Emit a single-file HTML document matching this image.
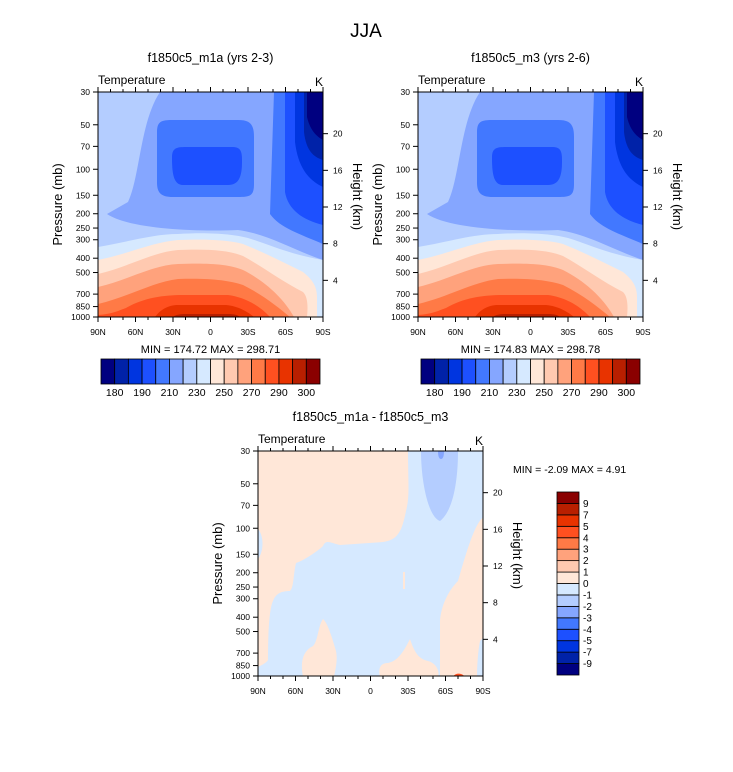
<!DOCTYPE html>
<html><head><meta charset="utf-8"><style>
body{margin:0;background:#fff}
svg{display:block;font-family:"Liberation Sans",sans-serif}
</style></head><body>
<svg id="fig" width="733" height="772" viewBox="0 0 733 772">
<text x="366" y="37" font-size="19" text-anchor="middle">JJA</text>
</svg>
<script>
// ---- data ----
const tempLevels = [180,185,190,200,210,220,230,240,250,260,270,280,290,295,300];
const tempLabels = ["180","","190","","210","","230","","250","","270","","290","","300"];
const diffLevels = [-9,-7,-5,-4,-3,-2,-1,0,1,2,3,4,5,7,9];
const colors = ["#000080","#0022a8","#0035e0","#1d50ff","#4278ff","#85a6ff","#b4cdff","#d6e9ff","#ffe7d8","#ffc9b0","#ffa27c","#ff7a46","#ff5020","#e83300","#b81f00","#8a0000"];
const pTicks = [30,50,70,100,150,200,250,300,400,500,700,850,1000];
const kmTicks = [4,8,12,16,20];
const latTicks = [90,60,30,0,-30,-60,-90];
const latLabels = ["90N","60N","30N","0","30S","60S","90S"];
const panelTitles = ["f1850c5_m1a (yrs 2-3)","f1850c5_m3 (yrs 2-6)","f1850c5_m1a - f1850c5_m3"];
const minMax = ["MIN = 174.72  MAX = 298.71","MIN = 174.83  MAX = 298.78","MIN =  -2.09  MAX =   4.91"];

const NS="http://www.w3.org/2000/svg";
const fig=document.getElementById('fig');
const W=225,H=225;
function el(tag,attrs,parent){const e=document.createElementNS(NS,tag);for(const k in attrs)e.setAttribute(k,attrs[k]);(parent||fig).appendChild(e);return e;}
function yP(p){return H*Math.log(p/30)/Math.log(1000/30);}
function xL(l){return (90-l)/180*W;}
function yKm(z){return yP(1000*Math.exp(-z/7));}

const tempShapes=[
 [6,"M0,0H225V225H0Z"],
 [5,"M62,0C42,30 42,85 30,110L9,122C30,136 90,140 140,138C170,142 195,158 225,168V0Z"],
 [4,"M59,40C59,27 66,28 80,28H140C152,28 156,32 156,45V92C156,104 152,105 140,105H75C62,105 59,100 59,90Z"],
 [4,"M176,0L172,122C182,136 202,142 225,152V0Z"],
 [3,"M74,65C74,55 80,55 90,55H135C144,55 144,62 144,70C144,86 140,93 130,93H85C75,93 74,80 74,65Z"],
 [3,"M187,0L187,100C190,118 205,128 225,133V0Z"],
 [2,"M197,0L197,50C200,75 210,88 225,95V0Z"],
 [1,"M206,0L206,40C208,58 215,65 225,68V0Z"],
 [0,"M209,0L209,25C212,38 218,44 225,48V0Z"],
 [7,"M0,155C30,150 55,142 80,142C110,140 135,142 150,146C170,152 190,162 225,168V225H0Z"],
 [8,"M0,168C30,162 55,150 80,148C110,147 130,148 145,152C165,160 185,170 205,180C215,188 219,195 219,205V225H0Z"],
 [9,"M0,182C30,175 55,160 80,158C110,157 130,158 145,164C165,175 185,190 205,200C210,205 210,215 209,225H0Z"],
 [10,"M0,195C30,188 55,173 80,172C110,171 130,172 145,178C165,188 185,205 196,225H0Z"],
 [11,"M0,212C30,205 55,190 80,187C110,186 130,188 145,193C165,203 180,215 192,225H0Z"],
 [12,"M0,223C15,222 22,218 28,216C45,206 65,203 85,203H130C145,205 160,212 172,225H0Z"],
 [13,"M57,225C62,218 70,213 80,213H128C140,214 150,220 156,225Z"],
 [14,"M75,225C78,222 85,222 90,222H130C136,222 140,223 142,225Z"]
];
const diffShapes=[
 [7,"M0,0H226V226H0Z"],
 [8,"M0,0H150C150,30 152,45 148,60C144,80 140,89 125,91L82,94C72,92 68,88 65,95C60,100 45,110 38,112C35,125 36,136 32,140C24,140 18,142 15,150C10,160 10,200 10,209C8,212 4,214 0,216V108C6,100 6,85 0,78Z"],
 [8,"M45,226C42,210 45,200 55,195C60,190 60,175 65,168C70,172 75,190 78,200C80,210 77,220 76,226Z"],
 [8,"M122,226C120,218 122,212 130,212C140,210 146,200 152,188C156,200 160,208 170,210C178,212 182,220 180,226Z"],
 [8,"M226,66C218,70 210,95 200,130C190,140 183,155 182,170V226H219C219,215 220,200 222,190L226,186Z"],
 [8,"M145,121H147V138H145Z"],
 [6,"M163,0H200C200,30 195,60 182,70C170,66 163,30 163,0Z"],
 [5,"M180,0H186C186,5 185,8 183,8C181,8 180,5 180,0Z"],
 [12,"M195,226C196,223 200,222 203,223C206,224 206,225 206,226Z"]
];

function panel(idx,x0,y0,shapes,levels,labels,cb){
  const g=el('g',{transform:`translate(${x0},${y0})`});
  
  
  const cp=el('clipPath',{id:'cp'+idx},g);el('rect',{x:0,y:0,width:W,height:H},cp);
  const fg=el('g',{'clip-path':`url(#cp${idx})`},g);
  shapes.forEach((s,i)=>{const p=el('path',{d:s[1],fill:colors[s[0]]},fg);
    
    });
  el('rect',{x:0,y:0,width:W,height:H,fill:'none',stroke:'#000','stroke-width':1},g);
  const t=el('text',{x:W/2,y:-30,'font-size':12.5,'text-anchor':'middle'},g);t.textContent=panelTitles[idx];
  
  const tt=el('text',{x:0,y:-8,'font-size':12},g);tt.textContent='Temperature';
  
  const tk=el('text',{x:W,y:-6,'font-size':12,'text-anchor':'end'},g);tk.textContent='K';
  
  for(let l=90;l>=-90;l-=10){const x=xL(l);const maj=l%30===0;
    el('line',{x1:x,x2:x,y1:H,y2:H+(maj?5:3),stroke:'#000'},g);
    el('line',{x1:x,x2:x,y1:0,y2:-(maj?5:3),stroke:'#000'},g);}
  latTicks.forEach((l,i)=>{const tx=el('text',{x:xL(l),y:H+18,'font-size':8.5,'text-anchor':'middle'},g);tx.textContent=latLabels[i];
    });
  pTicks.forEach(p=>{const y=yP(p);el('line',{x1:0,x2:-5,y1:y,y2:y,stroke:'#000'},g);
    const tx=el('text',{x:-8,y:y+3,'font-size':8.5,'text-anchor':'end'},g);tx.textContent=p;
    });
  kmTicks.forEach(z=>{const y=yKm(z);el('line',{x1:W,x2:W+5,y1:y,y2:y,stroke:'#000'},g);
    const tx=el('text',{x:W+10,y:y+3,'font-size':8.5},g);tx.textContent=z;
    });
  const ya=el('text',{transform:`translate(-36,${H/2}) rotate(-90)`,'font-size':13,'text-anchor':'middle'},g);ya.textContent='Pressure (mb)';
  
  const ha=el('text',{transform:`translate(${W+30},${H/2-8}) rotate(90)`,'font-size':13,'text-anchor':'middle'},g);ha.textContent='Height (km)';
  
  if(cb==='h'){
    const mm=el('text',{x:W/2,y:H+36,'font-size':11,'text-anchor':'middle'},g);mm.textContent=minMax[idx];
    
    const cg=el('g',{transform:`translate(3,${H+42})`},g);
    
    const bw=219/16;
    colors.forEach((c,i)=>{el('rect',{x:i*bw,y:0,width:bw,height:25,fill:c,stroke:'#000','stroke-width':0.8},cg);});
    levels.forEach((v,i)=>{if(!labels[i])return;const tx=el('text',{x:(i+1)*bw,y:37,'font-size':10.5,'text-anchor':'middle'},cg);tx.textContent=labels[i];
      });
  } else {
    const mm=el('text',{x:255,y:22,'font-size':10.5},g);mm.textContent=minMax[idx];
    
    const cg=el('g',{transform:`translate(299,41)`},g);
    
    const bh=183/16;
    colors.forEach((c,i)=>{el('rect',{x:0,y:(15-i)*bh,width:22,height:bh,fill:c,stroke:'#000','stroke-width':0.8},cg);});
    levels.forEach((v,i)=>{const tx=el('text',{x:26,y:(15-i-1)*bh+bh+3.5,'font-size':10},cg);tx.textContent=v;
      });
  }
}
panel(0,98,92,tempShapes,tempLevels,tempLabels,'h');
panel(1,418,92,tempShapes,tempLevels,tempLabels,'h');
panel(2,258,451,diffShapes,diffLevels,diffLevels,'v');
</script>
</body></html>
